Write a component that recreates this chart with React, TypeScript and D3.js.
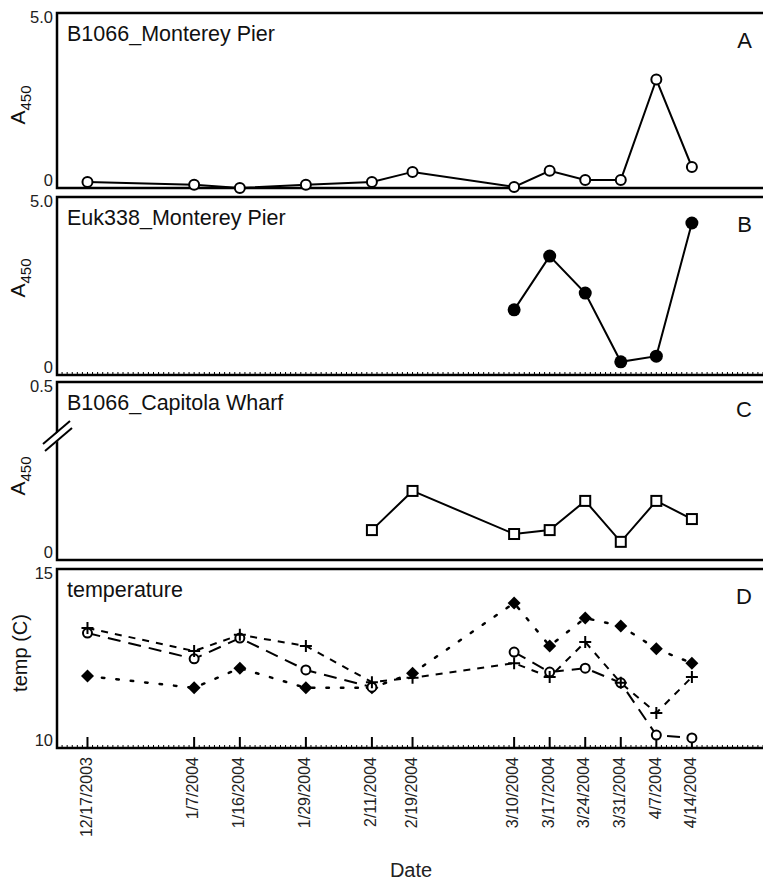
import React from "react";
import * as d3 from "d3";

const dateLabels = ["12/17/2003","1/7/2004","1/16/2004","1/29/2004","2/11/2004","2/19/2004","3/10/2004","3/17/2004","3/24/2004","3/31/2004","4/7/2004","4/14/2004"];
const seriesA: (number | null)[] = [0.17,0.09,0.0,0.09,0.17,0.46,0.03,0.49,0.23,0.23,3.1,0.6];
const seriesB: (number | null)[] = [null,null,null,null,null,null,1.83,3.34,2.3,0.37,0.53,4.27];
const seriesC: (number | null)[] = [null,null,null,null,0.084,0.194,0.073,0.084,0.166,0.051,0.166,0.115];
const tempDiamond: (number | null)[] = [12.01,11.68,12.23,11.68,11.68,12.09,14.05,12.85,13.63,13.41,12.77,12.37];
const tempCircle: (number | null)[] = [13.21,12.49,13.07,12.18,11.70,null,12.68,12.12,12.23,11.82,10.36,10.28];
const tempPlus: (number | null)[] = [13.35,12.71,13.16,12.85,11.84,11.96,12.37,11.98,12.96,11.82,10.98,11.98];

const panelTitles = ["B1066_Monterey Pier","Euk338_Monterey Pier","B1066_Capitola Wharf","temperature"];
const panelLetters = ["A","B","C","D"];
const yDomains: [number, number][] = [[0,5],[0,5],[0,0.5],[10,15]];
const yTickLabels: [string, string][] = [["0","5.0"],["0","5.0"],["0","0.5"],["10","15"]];

const parse = d3.timeParse("%m/%d/%Y");
const dates = dateLabels.map((s) => parse(s) as Date);

const FONT = "'Liberation Sans', Arial, Helvetica, sans-serif";

export default function App() {
  const W = 763, H = 881;
  const left = 57;
  const x = d3.scaleTime().domain([new Date(2003, 11, 11), new Date(2004, 3, 28)]).range([left, 763]);
  const frames = [
    { top: 13, bottom: 188 },
    { top: 197, bottom: 375 },
    { top: 382, bottom: 560 },
    { top: 569, bottom: 748 },
  ];
  const ys = frames.map((f, i) => d3.scaleLinear().domain(yDomains[i]).range([f.bottom, f.top]));

  const mk = (vals: (number | null)[], y: d3.ScaleLinear<number, number>) =>
    d3.line<number | null>()
      .defined((d) => d !== null)
      .x((_, i) => x(dates[i]))
      .y((d) => y(d as number))(vals) || "";

  const pts = (vals: (number | null)[]) =>
    vals.map((v, i) => ({ v, i })).filter((p) => p.v !== null) as { v: number; i: number }[];

  const days = d3.timeDay.range(new Date(2003, 11, 11), new Date(2004, 3, 29));

  const yLabel = (i: number, cy: number) => {
    if (i === 3)
      return (
        <text transform={`translate(27,${cy}) rotate(-90)`} textAnchor="middle" fontSize={20} fontFamily={FONT} fill="#111">temp (C)</text>
      );
    return (
      <text transform={`translate(25,${cy}) rotate(-90)`} textAnchor="middle" fontSize={21} fontFamily={FONT} fill="#111">
        A<tspan fontSize={15} dy={6}>450</tspan>
      </text>
    );
  };

  const yLabelCenters = [105, 278, 476, 653];

  return (
    <svg width={W} height={H} style={{ position: "absolute", left: 0, top: 0, background: "#fff" }}>
      <rect x={0} y={0} width={W} height={H} fill="#fff" />
      {frames.map((f, i) => (
        <g key={i}>
          <rect x={left} y={f.top} width={720} height={f.bottom - f.top} fill="none" stroke="#000" strokeWidth={2.5} />
          <text x={67} y={f.top + 28} fontSize={21.5} fontFamily={FONT} fill="#111">{panelTitles[i]}</text>
          <text x={752} y={f.top + 35} fontSize={22} fontFamily={FONT} textAnchor="end" fill="#111">{panelLetters[i]}</text>
          <text x={53} y={f.top + 6} fontSize={16.5} fontFamily={FONT} textAnchor="end" dominantBaseline="middle" fill="#222">{yTickLabels[i][1]}</text>
          <text x={53} y={f.bottom - 6} fontSize={16.5} fontFamily={FONT} textAnchor="end" dominantBaseline="middle" fill="#222">{yTickLabels[i][0]}</text>
          {yLabel(i, yLabelCenters[i])}
        </g>
      ))}

      {/* minor day ticks in B and D */}
      {[1, 3].map((pi) =>
        days.map((d, k) => (
          <line key={`m${pi}-${k}`} x1={x(d)} x2={x(d)} y1={frames[pi].bottom} y2={frames[pi].bottom - 3} stroke="#000" strokeWidth={1} />
        ))
      )}
      {/* major ticks in D */}
      {dates.map((d, k) => (
        <line key={`t${k}`} x1={x(d)} x2={x(d)} y1={frames[3].bottom} y2={frames[3].bottom - 11} stroke="#000" strokeWidth={2} />
      ))}

      {/* break mark panel C */}
      <polygon points="44,444 70,422 72,429 46,451" fill="#fff" />
      <line x1={43} y1={444} x2={70} y2={421} stroke="#000" strokeWidth={2} />
      <line x1={45} y1={451} x2={72} y2={428} stroke="#000" strokeWidth={2} />

      {/* Panel A */}
      <path d={mk(seriesA, ys[0])} fill="none" stroke="#000" strokeWidth={2} />
      {pts(seriesA).map((p) => (
        <circle key={`a${p.i}`} cx={x(dates[p.i])} cy={ys[0](p.v)} r={5} fill="#fff" stroke="#000" strokeWidth={2} />
      ))}

      {/* Panel B */}
      <path d={mk(seriesB, ys[1])} fill="none" stroke="#000" strokeWidth={2} />
      {pts(seriesB).map((p) => (
        <circle key={`b${p.i}`} cx={x(dates[p.i])} cy={ys[1](p.v)} r={6.5} fill="#000" />
      ))}

      {/* Panel C */}
      <path d={mk(seriesC, ys[2])} fill="none" stroke="#000" strokeWidth={2} />
      {pts(seriesC).map((p) => (
        <rect key={`c${p.i}`} x={x(dates[p.i]) - 5} y={ys[2](p.v) - 5} width={10} height={10} fill="#fff" stroke="#000" strokeWidth={2} />
      ))}

      {/* Panel D */}
      <path d={mk(tempDiamond, ys[3])} fill="none" stroke="#000" strokeWidth={2.5} strokeDasharray="2.5 12" strokeLinecap="round" />
      <path d={mk(tempCircle, ys[3])} fill="none" stroke="#000" strokeWidth={2} strokeDasharray="13 8" />
      <path d={mk(tempPlus, ys[3])} fill="none" stroke="#000" strokeWidth={2} strokeDasharray="7 7" />
      {pts(tempDiamond).map((p) => {
        const cx = x(dates[p.i]), cy = ys[3](p.v);
        return <path key={`dd${p.i}`} d={`M${cx},${cy - 6.5}L${cx + 6.5},${cy}L${cx},${cy + 6.5}L${cx - 6.5},${cy}Z`} fill="#000" />;
      })}
      {pts(tempCircle).map((p) => (
        <circle key={`dc${p.i}`} cx={x(dates[p.i])} cy={ys[3](p.v)} r={4.5} fill="#fff" stroke="#000" strokeWidth={2} />
      ))}
      {pts(tempPlus).map((p) => {
        const cx = x(dates[p.i]), cy = ys[3](p.v);
        return <path key={`dp${p.i}`} d={`M${cx - 6},${cy}H${cx + 6}M${cx},${cy - 6}V${cy + 6}`} stroke="#000" strokeWidth={2} />;
      })}

      {/* x tick labels */}
      {dateLabels.map((s, k) => (
        <text key={`xl${k}`} transform={`translate(${x(dates[k])},757) rotate(-90)`} textAnchor="end" dominantBaseline="middle" fontSize={16} fontFamily={FONT} fill="#222">{s}</text>
      ))}
      <text x={411} y={877} textAnchor="middle" fontSize={20} fontFamily={FONT} fill="#222">Date</text>
    </svg>
  );
}
